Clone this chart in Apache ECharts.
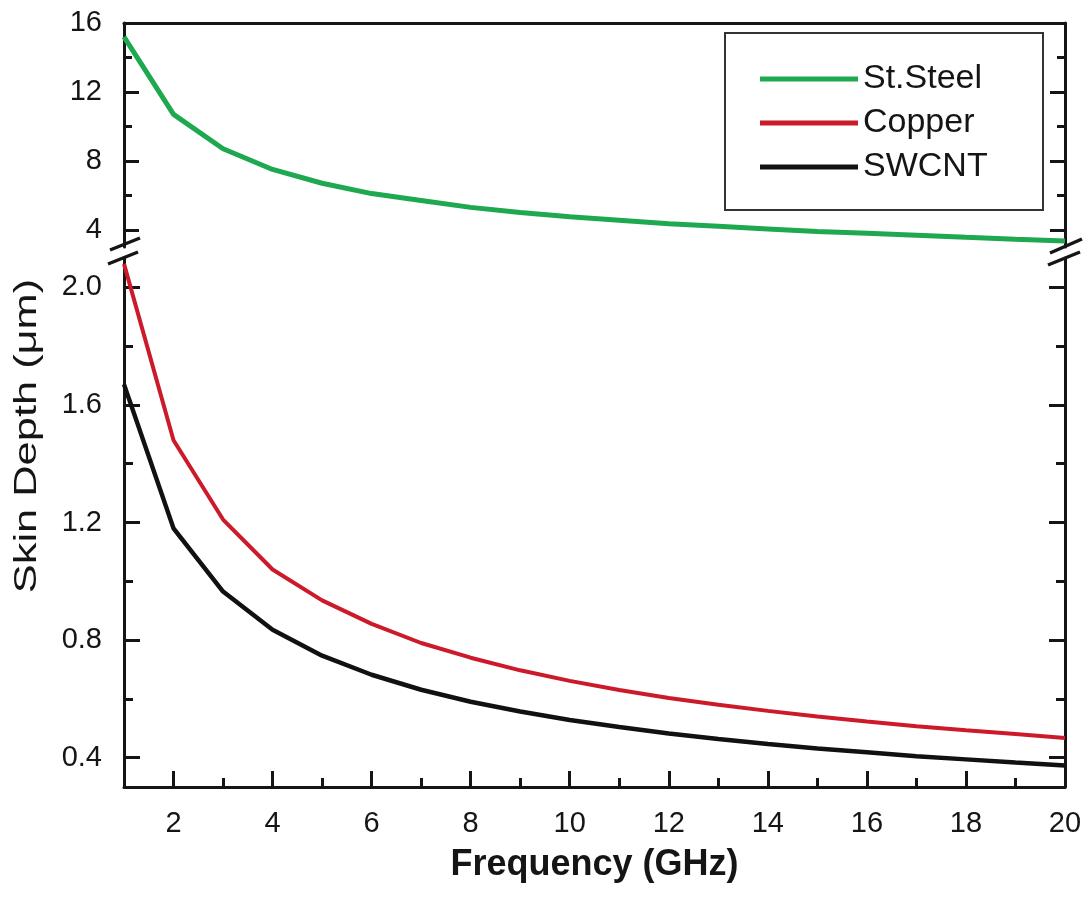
<!DOCTYPE html>
<html>
<head>
<meta charset="utf-8">
<title>Skin depth vs frequency</title>
<script src="https://cdn.jsdelivr.net/npm/echarts@6/dist/echarts.min.js"></script>
<style>
  html, body { margin: 0; padding: 0; background: #fff; }
  #chart { width: 1086px; height: 901px; }
</style>
</head>
<body>
<div id="chart"></div>
<script>
// frequency points (GHz)
var freq = [1, 2, 3, 4, 5, 6, 7, 8, 9, 10, 11, 12, 13, 14, 15, 16, 17, 18, 19, 20];
// skin depth (um)
var steel = [15.2, 10.7, 8.7, 7.5, 6.7, 6.1, 5.7, 5.3, 5.0, 4.75, 4.55, 4.35, 4.2, 4.05, 3.9, 3.8, 3.68, 3.56, 3.45, 3.35];
var copper = [2.08, 1.48, 1.21, 1.04, 0.935, 0.855, 0.79, 0.74, 0.697, 0.661, 0.63, 0.603, 0.58, 0.559, 0.54, 0.523, 0.507, 0.493, 0.48, 0.467];
var swcnt = [1.67, 1.18, 0.965, 0.835, 0.747, 0.682, 0.631, 0.59, 0.557, 0.528, 0.504, 0.482, 0.463, 0.446, 0.431, 0.418, 0.405, 0.394, 0.383, 0.373];

var xMajor = [2, 4, 6, 8, 10, 12, 14, 16, 18, 20];
var xMinor = [3, 5, 7, 9, 11, 13, 15, 17, 19];
var topMajor = [4, 8, 12, 16];
var topMinor = [6, 10, 14];
var botMajor = [0.4, 0.8, 1.2, 1.6, 2.0];
var botMinor = [0.6, 1.0, 1.4, 1.8];

function pairs(vals) {
  return freq.map(function (f, i) { return [f, vals[i]]; });
}

var FONT = "'Liberation Sans', Arial, sans-serif";
var INK = "#151515";

function yAx(grid, pos, min, max, ticks, len, labels, showLine, fmt) {
  return {
    type: "value",
    gridIndex: grid,
    position: pos,
    min: min,
    max: max,
    axisLine: { show: showLine, lineStyle: { color: INK, width: 3 } },
    axisTick: { show: true, inside: true, length: len, customValues: ticks,
      lineStyle: { color: INK, width: 3 } },
    axisLabel: {
      show: !!labels,
      customValues: labels || undefined,
      margin: 22,
      color: INK,
      fontFamily: FONT,
      fontSize: 29,
      formatter: fmt
    },
    splitLine: { show: false }
  };
}

var chart = echarts.init(document.getElementById("chart"));
var option = {
  animation: false,
  backgroundColor: "#fff",
  grid: [
    { left: 124, right: 21, top: 23, height: 224 },
    { left: 124, right: 21, top: 258, height: 529 }
  ],
  xAxis: [
    {
      type: "value", gridIndex: 0, position: "top", min: 1, max: 20,
      axisLine: { show: true, lineStyle: { color: INK, width: 3 } },
      axisTick: { show: false }, axisLabel: { show: false }, splitLine: { show: false }
    },
    {
      type: "value", gridIndex: 1, position: "bottom", min: 1, max: 20,
      axisLine: { show: true, lineStyle: { color: INK, width: 3 } },
      axisTick: { show: true, inside: true, length: 16, customValues: xMajor,
        lineStyle: { color: INK, width: 3 } },
      axisLabel: { customValues: xMajor, margin: 22, color: INK, fontFamily: FONT, fontSize: 29 },
      splitLine: { show: false },
      name: "Frequency (GHz)",
      nameLocation: "middle",
      nameGap: 60,
      nameTextStyle: { color: INK, fontFamily: FONT, fontSize: 36, fontWeight: "bold" }
    },
    {
      type: "value", gridIndex: 1, position: "bottom", min: 1, max: 20,
      axisLine: { show: false },
      axisTick: { show: true, inside: true, length: 9, customValues: xMinor,
        lineStyle: { color: INK, width: 3 } },
      axisLabel: { show: false }, splitLine: { show: false }
    }
  ],
  yAxis: [
    yAx(0, "left", 3, 16, topMajor, 15, topMajor, true),
    yAx(0, "left", 3, 16, topMinor, 8, null, false),
    yAx(0, "right", 3, 16, topMajor, 15, null, true),
    yAx(0, "right", 3, 16, topMinor, 8, null, false),
    yAx(1, "left", 0.3, 2.1, botMajor, 16, botMajor, true, function (v) { return v.toFixed(1); }),
    yAx(1, "left", 0.3, 2.1, botMinor, 9, null, false),
    yAx(1, "right", 0.3, 2.1, botMajor, 16, null, true),
    yAx(1, "right", 0.3, 2.1, botMinor, 9, null, false)
  ],
  legend: {
    orient: "vertical",
    left: 755,
    top: 57,
    itemWidth: 98,
    itemHeight: 5,
    itemGap: 10,
    data: [
      { name: "St.Steel", icon: "rect" },
      { name: "Copper", icon: "rect" },
      { name: "SWCNT", icon: "rect" }
    ],
    textStyle: { color: INK, fontFamily: FONT, fontSize: 34, lineHeight: 32, padding: [0, 0, 0, 0] }
  },
  series: [
    {
      name: "St.Steel", type: "line", xAxisIndex: 0, yAxisIndex: 0,
      data: pairs(steel), showSymbol: false, symbol: "none",
      lineStyle: { color: "#1ea84f", width: 5 }, itemStyle: { color: "#1ea84f" }
    },
    {
      name: "Copper", type: "line", xAxisIndex: 1, yAxisIndex: 4,
      data: pairs(copper), showSymbol: false, symbol: "none",
      lineStyle: { color: "#cc1a2a", width: 4 }, itemStyle: { color: "#cc1a2a" }
    },
    {
      name: "SWCNT", type: "line", xAxisIndex: 1, yAxisIndex: 4,
      data: pairs(swcnt), showSymbol: false, symbol: "none",
      lineStyle: { color: "#111", width: 4.5 }, itemStyle: { color: "#111" }
    }
  ],
  graphic: [
    // legend frame
    { type: "rect", shape: { x: 725, y: 33, width: 318, height: 177 },
      style: { fill: null, stroke: "#333", lineWidth: 2 } },
    // axis break marks
    { type: "line", shape: { x1: 110, y1: 250, x2: 140, y2: 238 }, style: { stroke: INK, lineWidth: 3.5 } },
    { type: "line", shape: { x1: 108, y1: 264, x2: 138, y2: 252 }, style: { stroke: INK, lineWidth: 3.5 } },
    { type: "line", shape: { x1: 1050, y1: 253, x2: 1082, y2: 239 }, style: { stroke: INK, lineWidth: 3.5 } },
    { type: "line", shape: { x1: 1048, y1: 265, x2: 1080, y2: 252 }, style: { stroke: INK, lineWidth: 3.5 } },
    // y axis title shared by both panels
    { type: "text", x: 27, y: 436, rotation: Math.PI / 2, scaleX: 1.4,
      style: { text: "Skin Depth (\u03bcm)", fill: INK, font: "31px 'Liberation Sans', Arial, sans-serif",
        align: "center", verticalAlign: "middle" } }
  ]
};
chart.setOption(option);
</script>
</body>
</html>
